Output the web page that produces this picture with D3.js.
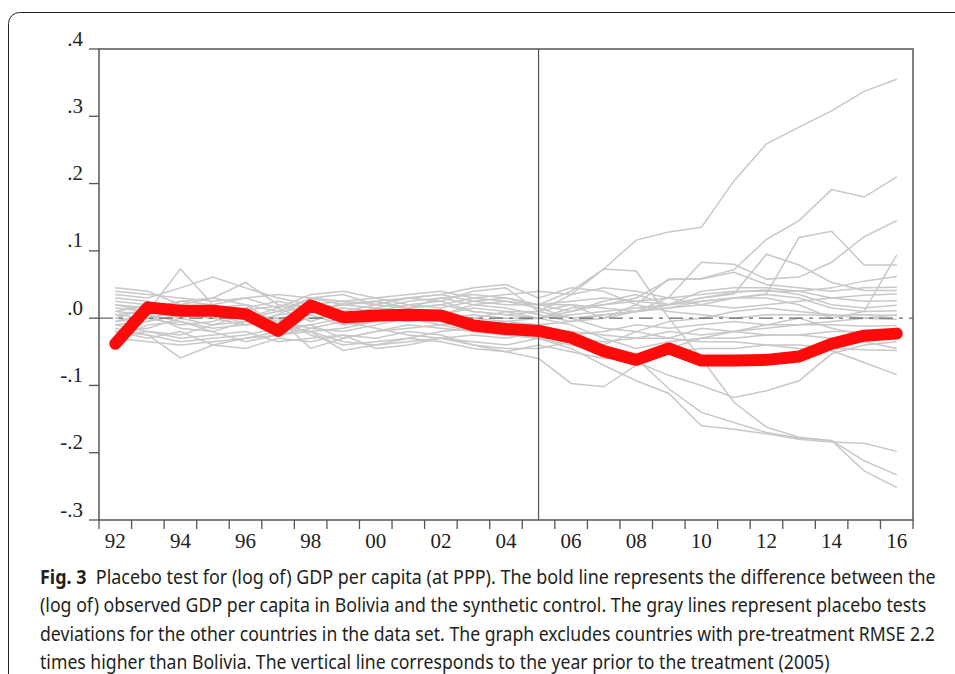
<!DOCTYPE html>
<html>
<head>
<meta charset="utf-8">
<script src="https://cdn.jsdelivr.net/npm/d3@7"></script>
<style>
body { margin: 0; background: #fff; }
</style>
</head>
<body>
<svg id="chart" width="955" height="674"></svg>
<script>
const years = [1992, 1993, 1994, 1995, 1996, 1997, 1998, 1999, 2000, 2001, 2002, 2003, 2004,
    2005, 2006, 2007, 2008, 2009, 2010, 2011, 2012, 2013, 2014, 2015, 2016]
const xLabelYears = [1992, 1994, 1996, 1998, 2000, 2002, 2004, 2006, 2008, 2010, 2012, 2014, 2016]
const xLabels = ['92', '94', '96', '98', '00', '02', '04', '06', '08', '10', '12', '14', '16']
const yTicks = [0.4, 0.3, 0.2, 0.1, 0, -0.1, -0.2, -0.3]
const yLabels = ['.4', '.3', '.2', '.1', '.0', '-.1', '-.2', '-.3']
const treatYear = 2005

// Bolivia minus synthetic control
const bolivia = [-0.038, 0.016, 0.011, 0.011, 0.006, -0.019, 0.019, 0.001, 0.004, 0.005, 0.004, -0.011, -0.016,
    -0.019, -0.029, -0.049, -0.062, -0.045, -0.063, -0.063, -0.062, -0.057, -0.038, -0.026, -0.023]

// placebo gaps, other countries
const pA = [0.010, 0.020, 0.015, 0.005, 0.012, 0.018, 0.010, 0.022, 0.025, 0.015, 0.020, 0.010, 0.005, 0.010, 0.035, 0.073, 0.116, 0.128, 0.135, 0.204, 0.259, 0.284, 0.308, 0.337, 0.355]
const pB = [0.030, 0.025, 0.010, 0.020, 0.000, 0.015, -0.005, 0.010, 0.020, 0.030, 0.025, 0.010, 0.005, 0.000, 0.015, 0.020, 0.030, 0.057, 0.059, 0.072, 0.117, 0.145, 0.191, 0.180, 0.210]
const pC = [-0.010, -0.005, 0.020, 0.010, -0.010, 0.005, 0.030, 0.035, 0.020, 0.015, 0.030, 0.020, 0.015, 0.005, -0.005, 0.000, 0.010, 0.031, 0.083, 0.080, 0.058, 0.061, 0.083, 0.121, 0.145]
const pD = [0.005, 0.000, -0.010, -0.005, 0.010, -0.015, -0.010, 0.000, 0.005, 0.000, -0.005, 0.000, 0.010, 0.000, 0.005, 0.010, 0.015, 0.020, 0.025, 0.030, 0.030, 0.020, 0.000, 0.010, 0.094]
const pE = [0.040, 0.035, 0.030, 0.025, 0.030, 0.035, 0.030, 0.025, 0.020, 0.030, 0.035, 0.025, 0.020, 0.020, 0.020, 0.015, 0.010, 0.015, 0.020, 0.030, 0.036, 0.120, 0.129, 0.079, 0.079]
const pF = [-0.020, -0.015, 0.000, 0.015, 0.020, -0.010, -0.020, -0.015, -0.005, 0.010, 0.005, 0.015, 0.010, 0.010, 0.000, 0.005, 0.010, 0.020, 0.030, 0.036, 0.095, 0.079, 0.053, 0.041, 0.041]
const pG = [0.015, 0.010, 0.025, 0.030, 0.020, 0.010, 0.030, 0.020, 0.015, 0.025, 0.030, 0.035, 0.030, 0.020, 0.010, 0.020, 0.025, 0.030, 0.035, 0.040, 0.040, 0.040, 0.045, 0.055, 0.062]
const pH = [-0.025, -0.020, -0.030, -0.025, -0.020, -0.035, -0.030, -0.025, -0.030, -0.020, -0.025, -0.040, -0.050, -0.060, -0.097, -0.102, -0.070, -0.045, -0.030, -0.020, -0.015, -0.010, -0.005, 0.000, 0.005]
const pI = [-0.015, -0.025, -0.059, -0.040, -0.030, -0.020, -0.010, -0.030, -0.020, -0.015, -0.010, -0.020, -0.025, -0.030, -0.045, -0.070, -0.093, -0.112, -0.160, -0.165, -0.172, -0.180, -0.184, -0.186, -0.198]
const pJ = [0.020, 0.015, 0.005, 0.000, 0.015, 0.025, 0.015, 0.005, 0.010, 0.020, 0.015, 0.025, 0.030, 0.020, 0.040, 0.073, 0.070, 0.000, -0.060, -0.125, -0.162, -0.177, -0.182, -0.227, -0.252]
const pK = [-0.005, 0.005, -0.015, -0.020, -0.005, 0.000, -0.025, -0.040, -0.035, -0.030, -0.020, -0.015, -0.010, -0.010, -0.025, -0.045, -0.060, -0.105, -0.140, -0.155, -0.170, -0.178, -0.182, -0.212, -0.233]
const pL = [-0.030, -0.010, -0.005, -0.020, -0.035, -0.025, -0.015, -0.005, -0.015, -0.025, -0.030, -0.035, -0.040, -0.030, -0.040, -0.050, -0.065, -0.085, -0.100, -0.118, -0.108, -0.093, -0.053, -0.040, -0.035]
const pM = [0.000, -0.005, 0.005, 0.000, -0.010, -0.005, 0.005, -0.010, -0.005, 0.000, -0.010, -0.005, -0.010, -0.015, -0.020, -0.025, -0.030, -0.030, -0.035, -0.035, -0.040, -0.045, -0.048, -0.066, -0.084]
const pN = [0.025, 0.020, 0.010, 0.005, 0.000, 0.010, 0.015, 0.010, 0.000, -0.005, 0.000, 0.005, 0.000, 0.000, -0.010, -0.030, -0.045, -0.035, -0.030, -0.030, -0.025, -0.025, -0.030, -0.035, -0.045]
const pO = [0.035, 0.030, 0.045, 0.061, 0.045, 0.030, 0.020, 0.025, 0.030, 0.035, 0.040, 0.030, 0.025, 0.020, 0.025, 0.030, 0.025, 0.020, 0.040, 0.045, 0.045, 0.040, 0.030, 0.025, 0.026]
const pP = [-0.010, -0.020, -0.025, -0.010, 0.005, -0.005, -0.015, -0.020, -0.010, 0.000, -0.005, -0.010, -0.005, 0.000, 0.010, 0.025, 0.035, 0.020, 0.030, 0.038, 0.042, 0.035, 0.020, 0.015, 0.019]
const pQ = [0.010, 0.005, -0.005, -0.015, -0.010, 0.005, 0.010, 0.015, 0.010, 0.005, 0.010, 0.000, -0.005, -0.010, -0.005, 0.005, 0.010, 0.015, 0.025, 0.030, 0.035, 0.030, 0.015, 0.010, 0.011]
const pR = [0.045, 0.040, 0.020, 0.030, 0.053, 0.020, 0.015, 0.020, 0.025, 0.030, 0.035, 0.045, 0.050, 0.030, 0.045, 0.040, 0.020, 0.010, 0.005, 0.000, 0.005, 0.005, 0.004, 0.005, 0.004]
const pS = [-0.020, -0.025, -0.035, -0.030, -0.025, -0.015, -0.020, -0.048, -0.040, -0.035, -0.030, -0.025, -0.030, -0.020, -0.025, -0.020, -0.010, -0.015, -0.010, -0.005, -0.010, -0.010, -0.010, -0.012, -0.011]
const pT = [0.005, 0.010, 0.000, -0.010, -0.005, 0.000, -0.045, -0.030, -0.020, -0.010, -0.015, -0.020, -0.025, -0.030, -0.030, -0.035, -0.030, -0.020, -0.025, -0.020, -0.025, -0.025, -0.020, -0.020, -0.019]
const pU = [-0.030, -0.035, -0.040, -0.035, -0.030, -0.025, -0.020, -0.035, -0.040, -0.030, -0.035, -0.045, -0.050, -0.040, -0.050, -0.060, -0.055, -0.050, -0.045, -0.045, -0.040, -0.040, -0.045, -0.047, -0.048]
const pV = [0.020, 0.010, 0.073, 0.020, 0.005, 0.000, 0.010, 0.020, 0.025, 0.015, 0.020, 0.030, 0.035, 0.040, 0.035, 0.045, 0.040, 0.030, 0.020, 0.015, 0.020, 0.025, 0.030, 0.034, 0.036]
const pW = [0.000, 0.015, 0.025, 0.020, 0.030, 0.015, 0.035, 0.040, 0.030, 0.020, 0.025, 0.040, 0.045, 0.010, 0.020, 0.000, 0.020, 0.058, 0.058, 0.068, 0.050, 0.045, 0.040, 0.045, 0.046]
const pX = [-0.005, 0.000, 0.010, 0.015, 0.005, -0.010, 0.000, 0.005, 0.015, 0.010, 0.005, 0.020, 0.025, 0.015, 0.000, -0.015, -0.020, -0.005, 0.000, 0.010, 0.015, 0.010, 0.005, 0.000, -0.002]
const pY = [-0.020, -0.030, -0.020, -0.040, -0.045, -0.030, -0.035, -0.025, -0.045, -0.040, -0.030, -0.040, -0.045, -0.045, -0.035, -0.040, -0.020, -0.030, -0.015, -0.020, -0.010, 0.000, -0.015, -0.025, -0.030]
const placebos = [pA, pB, pC, pD, pE, pF, pG, pH, pI, pJ, pK, pL, pM, pN, pO, pP, pQ, pR, pS, pT, pU, pV, pW, pX, pY]

const captionLines = [
    ['Fig. 3', '  Placebo test for (log of) GDP per capita (at PPP). The bold line represents the difference between the'],
    ['', '(log of) observed GDP per capita in Bolivia and the synthetic control. The gray lines represent placebo tests'],
    ['', 'deviations for the other countries in the data set. The graph excludes countries with pre-treatment RMSE 2.2'],
    ['', 'times higher than Bolivia. The vertical line corresponds to the year prior to the treatment (2005)']
]
const captionWidths = [896, 887, 895, 790]

const svg = d3.select('#chart')
const plotLeft = 99, plotRight = 913, plotTop = 49, plotBottom = 520
const axisColor = '#555'
const serif = '"Liberation Serif", "DejaVu Serif", serif'

const xScale = d3.scaleBand()
    .domain(years)
    .range([plotLeft, plotRight])
const xMid = yr => xScale(yr) + xScale.bandwidth() / 2

const yScale = d3.scaleLinear()
    .domain([-0.3, 0.4])
    .range([plotBottom, plotTop])

// outer panel border
svg.append('rect')
    .attr('x', 8.5)
    .attr('y', 12.5)
    .attr('width', 1000)
    .attr('height', 700)
    .attr('rx', 11)
    .attr('fill', 'none')
    .attr('stroke', '#222')
    .attr('stroke-width', 1)

const line = d3.line()
    .x((d, i) => xMid(years[i]))
    .y(d => yScale(d))

svg.append('g')
    .selectAll('path')
    .data(placebos)
    .join('path')
    .attr('d', line)
    .attr('fill', 'none')
    .attr('stroke', '#c8c8c8')
    .attr('stroke-width', 1.5)

// zero line
svg.append('line')
    .attr('x1', plotLeft).attr('x2', plotRight)
    .attr('y1', yScale(0)).attr('y2', yScale(0))
    .attr('stroke', '#6a6a6a')
    .attr('stroke-width', 1.4)
    .attr('stroke-dasharray', '14,6,4,6')

// treatment year
svg.append('line')
    .attr('x1', xMid(treatYear)).attr('x2', xMid(treatYear))
    .attr('y1', plotTop).attr('y2', plotBottom)
    .attr('stroke', axisColor)
    .attr('stroke-width', 1.2)

svg.append('path')
    .datum(bolivia)
    .attr('d', line)
    .attr('fill', 'none')
    .attr('stroke', '#ff0a0a')
    .attr('stroke-width', 12)
    .attr('stroke-linejoin', 'round')
    .attr('stroke-linecap', 'round')

// frame
svg.append('rect')
    .attr('x', plotLeft).attr('y', plotTop)
    .attr('width', plotRight - plotLeft).attr('height', plotBottom - plotTop)
    .attr('fill', 'none')
    .attr('stroke', axisColor)
    .attr('stroke-width', 1.5)

// y axis
const yAxis = svg.append('g')
yAxis.selectAll('line')
    .data(yTicks)
    .join('line')
    .attr('x1', plotLeft - 10).attr('x2', plotLeft)
    .attr('y1', d => yScale(d)).attr('y2', d => yScale(d))
    .attr('stroke', axisColor)
    .attr('stroke-width', 1.3)
yAxis.selectAll('text')
    .data(yTicks)
    .join('text')
    .attr('x', 83)
    .attr('y', d => yScale(d) - 3.5)
    .attr('text-anchor', 'end')
    .attr('font-family', serif)
    .attr('font-size', 21)
    .attr('fill', '#222')
    .text((d, i) => yLabels[i])

// x axis: ticks on band edges, labels at band centres
const xAxis = svg.append('g')
xAxis.selectAll('line')
    .data(years.concat(['end']))
    .join('line')
    .attr('x1', d => d === 'end' ? plotRight : xScale(d))
    .attr('x2', d => d === 'end' ? plotRight : xScale(d))
    .attr('y1', plotBottom).attr('y2', plotBottom + 9)
    .attr('stroke', axisColor)
    .attr('stroke-width', 1.3)
xAxis.selectAll('text')
    .data(xLabelYears)
    .join('text')
    .attr('x', d => xMid(d))
    .attr('y', 548)
    .attr('text-anchor', 'middle')
    .attr('font-family', serif)
    .attr('font-size', 21)
    .attr('fill', '#222')
    .text((d, i) => xLabels[i])

// caption, squeezed horizontally to the printed line widths
const caption = svg.append('g')
    .attr('font-family', '"Noto Sans", "Open Sans", sans-serif')
    .attr('font-size', 20)
    .attr('fill', '#231f20')
captionLines.forEach((parts, i) => {
    const t = caption.append('text')
        .attr('xml:space', 'preserve')
    if (parts[0]) t.append('tspan').attr('font-weight', 'bold').text(parts[0])
    t.append('tspan').text(parts[1])
    const k = captionWidths[i] / t.node().getComputedTextLength()
    t.attr('transform', `translate(40,${584 + i * 28.3}) scale(${k},1)`)
})
</script>
</body>
</html>
